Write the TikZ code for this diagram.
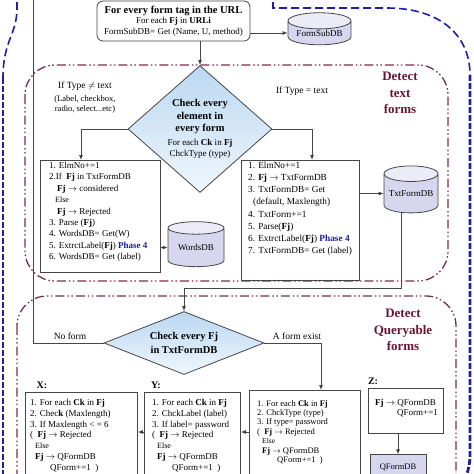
\documentclass[tikz,border=0pt]{standalone}
\usepackage{fontspec}
\setmainfont{Liberation Serif}
\usetikzlibrary{
    positioning,      % Relative positioning
    shapes.geometric, % Diamonds and cylinders
    arrows.meta,      % Modern arrow tips
    calc              % Coordinate calculations
}

\definecolor{lineGray}{RGB}{70,70,70}
\definecolor{regionRed}{RGB}{122,48,68}
\definecolor{labelRed}{RGB}{105,22,52}
\definecolor{outerBlue}{RGB}{30,30,170}
\definecolor{phaseBlue}{RGB}{30,30,160}
\definecolor{diaBlue}{RGB}{186,216,242}
\definecolor{dbFill}{RGB}{214,214,238}
\definecolor{dbEnd}{RGB}{236,236,248}

\newcommand{\fj}{\textbf{Fj}}
\newcommand{\ck}{\textbf{Ck}}
\newcommand{\phasefour}{\textcolor{phaseBlue}{\textbf{Phase 4}}}
\newcommand{\goesto}{$\rightarrow$}
\newcommand{\plain}{\fontsize{9}{11}\selectfont\mdseries}

\tikzset{
    box/.style={draw=lineGray, line width=0.8pt, fill=white, inner sep=0pt, anchor=north west},
    txt/.style={anchor=north west, inner sep=0pt, align=left, font=\fontsize{9}{11.4}\selectfont},
    decision/.style={diamond, draw=lineGray, line width=0.8pt, top color=diaBlue,
        bottom color=diaBlue!22, inner sep=0pt, align=center},
    db/.style={cylinder, shape border rotate=90, draw=lineGray, line width=0.8pt,
        cylinder uses custom fill, cylinder body fill=dbFill, cylinder end fill=dbEnd,
        inner sep=0pt, font=\fontsize{9}{11}\selectfont},
    arr/.style={draw=lineGray, line width=0.8pt, -{Latex[length=5pt,width=4pt,fill=black]}},
    flow/.style={draw=lineGray, line width=0.8pt},
    region/.style={draw=regionRed, line width=1.3pt, rounded corners=30pt,
        dash pattern=on 9pt off 3pt on 1.5pt off 2.5pt on 1.5pt off 3pt},
    regionlabel/.style={text=labelRed, align=center, inner sep=0pt,
        font=\fontsize{13}{16.5}\selectfont\bfseries},
    outerthin/.style={draw=outerBlue, line width=1.6pt, dash pattern=on 8pt off 4pt},
    outerthick/.style={draw=outerBlue, line width=2.8pt, dash pattern=on 6pt off 2pt},
    note/.style={inner sep=0pt, align=center, font=\fontsize{9.5}{11}\selectfont},
    title/.style={inner sep=0pt, font=\fontsize{10}{12}\selectfont\bfseries}
}

\begin{document}
\begin{tikzpicture}[x=1pt,y=-1pt]
    \useasboundingbox (0,0) rectangle (474,474);
    \clip (0,0) rectangle (474,474);

    % outer blue frame
    \draw[outerthin] (17,-10) -- (17,8) .. controls (17,35) and (3,40) .. (3,78);
    \draw[outerthick] (3,78) -- (3,490);
    \draw[outerthin] (273,-10) -- (273,8) -- (387,8) .. controls (440,8) and (470,35) .. (470,75);
    \draw[outerthick] (470,75) -- (470,455) .. controls (470,466) and (467,474) .. (463,486);

    % dash-dot regions
    \draw[region] (25,65) rectangle (448,281);
    \draw[region] (17,296) rectangle (456,530);
    \node[regionlabel] (textlabel) at (400,93) {Detect\\text\\forms};
    \node[regionlabel] (querylabel) at (403,330) {Detect\\Queryable\\forms};

    % top of the flow
    \node[box, anchor=center, rounded corners=6pt, minimum width=153pt, minimum height=40pt,
        align=center, font=\fontsize{9}{10.5}\selectfont] (formtag) at (173.5,21)
        {{\fontsize{10.5}{12}\selectfont\bfseries For every form tag in the URL}\\
         For each \fj{} in \textbf{URLi}\\
         FormSubDB= Get (Name, U, method)};
    \node[db, minimum width=63pt, minimum height=32pt, aspect=0.35] (fdb) at (319.5,33) {FormSubDB};

    % first decision
    \node[decision, minimum width=144pt, minimum height=127pt, aspect=1.13,
        font=\fontsize{10.5}{12.5}\selectfont\bfseries] (d1) at (200,129)
        {Check every\\ element in\\ every form\\[1pt]
         {\plain For each \ck{} in \fj}\\[-1.5pt]
         {\plain ChckType (type)}};
    \node[note] (ntype) at (85,86) {If Type $\neq$ text};
    \node[note, font=\fontsize{8.5}{10}\selectfont] (nkinds) at (85,104) {(Label, checkbox,\\radio, select...etc)};
    \node[note] (ttype) at (302,91) {If Type = text};

    % left branch
    \node[box, minimum width=120pt, minimum height=112pt] (lbox) at (40,160) {};
    \node[txt] (ltxt) at (49,162) {1. ElmNo+=1\\
        2.If \ \fj{} in TxtFormDB\\
        \hspace*{8pt}\fj{} \goesto{} considered\\
        \hspace*{6pt}{\fontsize{8}{10}\selectfont Else}\\
        \hspace*{8pt}\fj{} \goesto{} Rejected\\
        3. Parse (\fj)\\
        4. WordsDB= Get(W)\\
        5. ExtrctLabel(\fj) \phasefour\\
        6. WordsDB= Get (label)};
    \node[db, minimum width=56pt, minimum height=45pt, aspect=0.35] (wdb) at (196,247.5) {WordsDB};

    % right branch
    \node[box, minimum width=118pt, minimum height=120pt] (rbox) at (241,160) {};
    \node[txt, font=\fontsize{9.3}{12.1}\selectfont] (rtxt) at (248,162) {1. ElmNo+=1\\
        2. \fj{} \goesto{} TxtFormDB\\
        3. TxtFormDB= Get\\
        \hspace*{5pt}(default, Maxlength)\\
        4. TxtForm+=1\\
        5. Parse(\fj)\\
        6. ExtrctLabel(\fj) \phasefour\\
        7. TxtFormDB= Get (label)};
    \node[db, minimum width=54pt, minimum height=47pt, aspect=0.35] (tdb) at (411,193.5) {TxtFormDB};

    % second decision
    \node[decision, minimum width=160pt, minimum height=63pt, aspect=2.54,
        font=\fontsize{10.5}{14.5}\selectfont\bfseries] (d2) at (184,343)
        {Check every Fj\\ in TxtFormDB};
    \node[note] (nform) at (70,336) {No form};
    \node[note] (aform) at (297,336) {A form exist};

    % checks X, Y and the type check
    \node[title] (xtitle) at (42,385) {X:};
    \node[title] (ytitle) at (156,385) {Y:};
    \node[title] (ztitle) at (373,381) {Z:};
    \node[box, minimum width=112pt, minimum height=100pt] (xbox) at (25,392) {};
    \node[txt, font=\fontsize{9}{10.8}\selectfont] (xtxt) at (30,399) {1. For each \ck{} in \fj\\
        2. Chec\textbf{k} (Maxlength)\\
        3. If Maxlength < = 6\\
        ( \ \fj{} \goesto{} Rejected\\
        \hspace*{5pt}{\fontsize{8}{10}\selectfont Else}\\
        \hspace*{5pt}\fj{} \goesto{} QFormDB\\
        \hspace*{20pt}QForm+=1 \ )};
    \node[box, minimum width=96pt, minimum height=100pt] (ybox) at (144,392) {};
    \node[txt, font=\fontsize{9}{10.8}\selectfont] (ytxt) at (152,399) {1. For each \ck{} in \fj\\
        2. ChckLabel (label)\\
        3. If label= password\\
        ( \ \fj{} \goesto{} Rejected\\
        \hspace*{5pt}{\fontsize{8}{10}\selectfont Else}\\
        \hspace*{5pt}\fj{} \goesto{} QFormDB\\
        \hspace*{20pt}QForm+=1 \ )};
    \node[box, minimum width=111pt, minimum height=100pt] (wbox) at (249,390) {};
    \node[txt, font=\fontsize{8.5}{9.4}\selectfont] (wtxt) at (257,400) {1. For each \ck{} in \fj\\
        2. ChckType (type)\\
        3. If type= password\\
        ( \ \fj{} \goesto{} Rejected\\
        \hspace*{5pt}{\fontsize{7.5}{9}\selectfont Else}\\
        \hspace*{5pt}\fj{} \goesto{} QFormDB\\
        \hspace*{20pt}QForm+=1 \ )};
    \node[box, minimum width=75pt, minimum height=45pt] (zbox) at (368,388) {};
    \node[txt, font=\fontsize{9}{10.5}\selectfont] (ztxt) at (375,399) {\fj{} \goesto{} QFormDB\\
        \hspace*{22pt}QForm+=1};
    \node[db, minimum width=56pt, minimum height=54pt, aspect=0.35] (qdb) at (398,482) {};
    \node[inner sep=0pt, font=\fontsize{8.5}{10}\selectfont] (qtxt) at (398,467) {QFormDB};

    % connectors
    \draw[arr] (d1.north |- formtag.south) -- (d1.north);
    \draw[arr] (fdb.180 -| formtag.east) -- (fdb.180);
    \draw[arr] (d1.west) -| ([xshift=41pt]lbox.north west);
    \draw[arr] (d1.east) -| ([xshift=71pt]rbox.north west);
    \draw[arr] (wdb.180 -| lbox.east) -- (wdb.180);
    \draw[arr] (tdb.180 -| rbox.east) -- (tdb.180);
    \coordinate (join) at (184,288);
    \draw[arr] ([xshift=-10pt]tdb.270) |- (join) -- (d2.north);
    \coordinate (loop) at (33,-6);
    \draw[flow] (d2.west) -| (loop);
    \draw[arr] (d2.east) -| ([xshift=72pt]wbox.north west);
    \draw[arr] ([yshift=-42pt]wbox.north west) -- ([yshift=-40pt]ybox.north east);
    \draw[arr] ([yshift=-40pt]ybox.north west) -- ([yshift=-40pt]xbox.north east);
    \draw[arr] (qdb.90 |- zbox.south) -- (qdb.90);
\end{tikzpicture}
\end{document}
